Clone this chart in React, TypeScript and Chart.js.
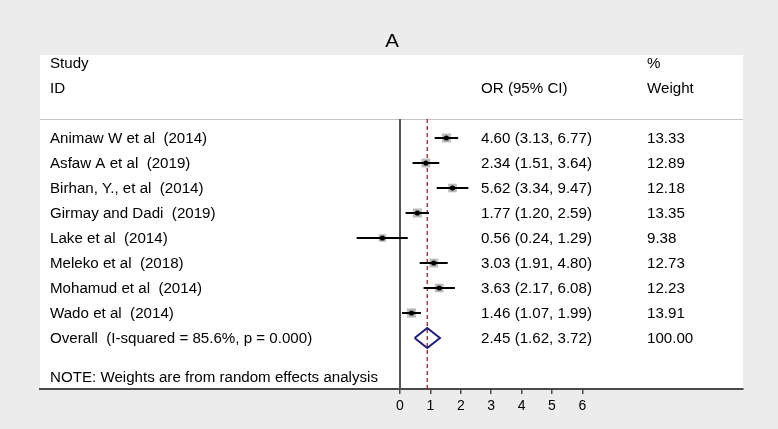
import React, { useEffect, useRef } from "react";
import { Chart, registerables } from "chart.js";

Chart.register(...registerables);

const studies = [
  "Animaw W et al  (2014)",
  "Asfaw A et al  (2019)",
  "Birhan, Y., et al  (2014)",
  "Girmay and Dadi  (2019)",
  "Lake et al  (2014)",
  "Meleko et al  (2018)",
  "Mohamud et al  (2014)",
  "Wado et al  (2014)",
];
const orValues = [4.6, 2.34, 5.62, 1.77, 0.56, 3.03, 3.63, 1.46];
const lowerCI = [3.13, 1.51, 3.34, 1.2, 0.24, 1.91, 2.17, 1.07];
const upperCI = [6.77, 3.64, 9.47, 2.59, 1.29, 4.8, 6.08, 1.99];
const weights = [13.33, 12.89, 12.18, 13.35, 9.38, 12.73, 12.23, 13.91];
const overallLabel = "Overall  (I-squared = 85.6%, p = 0.000)";
const overallOR = 2.45;
const overallLower = 1.62;
const overallUpper = 3.72;
const overallWeight = "100.00";
const noteText = "NOTE: Weights are from random effects analysis";
const xTickValues = [0, 1, 2, 3, 4, 5, 6];
const titleText = "A";

const FONT = "'Liberation Sans', Arial, Helvetica, sans-serif";

export default function App() {
  const ref = useRef<HTMLCanvasElement | null>(null);

  useEffect(() => {
    document.body.style.margin = "0";
    const canvas = ref.current;
    if (!canvas) return;

    const rows = studies.map((_, i) => i + 1);
    const overallRow = studies.length + 1;
    const noteRow = overallRow + 1.56;
    const headerLineRow = 0.24;
    const studyHeaderRow = -2;
    const idHeaderRow = -1;

    const fmt = (v: number) => v.toFixed(2);

    const ciDatasets = rows.map((r, i) => ({
      type: "line" as const,
      data: [
        { x: Math.log(lowerCI[i]), y: r },
        { x: Math.log(upperCI[i]), y: r },
      ],
      borderColor: "#000000",
      borderWidth: 2,
      pointRadius: 0,
      showLine: true,
      order: 2,
    }));

    const lnO = Math.log(overallOR);
    const diamondH = 0.4;

    const bgPlugin = {
      id: "bg",
      beforeDraw(chart: any) {
        const { ctx, chartArea } = chart;
        ctx.save();
        ctx.fillStyle = "#ececec";
        ctx.fillRect(0, 0, chart.width, chart.height);
        ctx.fillStyle = "#ffffff";
        ctx.fillRect(
          chartArea.left,
          chartArea.top,
          chartArea.right - chartArea.left,
          chartArea.bottom - chartArea.top
        );
        const ys = chart.scales.y;
        const yl = Math.round(ys.getPixelForValue(headerLineRow)) + 0.5;
        ctx.strokeStyle = "#c4c4c4";
        ctx.lineWidth = 1;
        ctx.beginPath();
        ctx.moveTo(chartArea.left, yl);
        ctx.lineTo(chartArea.right, yl);
        ctx.stroke();
        ctx.restore();
      },
    };

    const SX = 1.08;
    const textPlugin = {
      id: "texts",
      afterDraw(chart: any) {
        const { ctx, chartArea } = chart;
        const ys = chart.scales.y;
        const put = (t: string, x: number, y: number) => {
          ctx.save();
          ctx.translate(x, y + 1);
          ctx.scale(SX, 1);
          ctx.fillText(t, 0, 0);
          ctx.restore();
        };
        ctx.save();
        ctx.fillStyle = "#000000";
        ctx.textBaseline = "middle";
        ctx.font = `19px ${FONT}`;
        ctx.textAlign = "center";
        ctx.save();
        ctx.translate(392, 42);
        ctx.scale(SX, 1);
        ctx.fillText(titleText, 0, 0);
        ctx.restore();

        ctx.font = `14px ${FONT}`;
        ctx.textAlign = "left";
        const lx = chartArea.left + 10;
        const ox = 481;
        const wx = 647;
        put("Study", lx, ys.getPixelForValue(studyHeaderRow));
        put("ID", lx, ys.getPixelForValue(idHeaderRow));
        put("OR (95% CI)", ox, ys.getPixelForValue(idHeaderRow));
        put("%", wx, ys.getPixelForValue(studyHeaderRow));
        put("Weight", wx, ys.getPixelForValue(idHeaderRow));
        studies.forEach((s, i) => {
          const y = ys.getPixelForValue(rows[i]);
          put(s, lx, y);
          put(
            `${fmt(orValues[i])} (${fmt(lowerCI[i])}, ${fmt(upperCI[i])})`,
            ox,
            y
          );
          put(fmt(weights[i]), wx, y);
        });
        const yo = ys.getPixelForValue(overallRow);
        put(overallLabel, lx, yo);
        put(
          `${fmt(overallOR)} (${fmt(overallLower)}, ${fmt(overallUpper)})`,
          ox,
          yo
        );
        put(overallWeight, wx, yo);
        put(noteText, lx, ys.getPixelForValue(noteRow));
        ctx.restore();
      },
    };

    const chart = new Chart(canvas, {
      type: "scatter",
      data: {
        datasets: [
          {
            type: "line",
            data: [
              { x: 0, y: headerLineRow },
              { x: 0, y: 11.04 },
            ],
            borderColor: "#555555",
            borderWidth: 2,
            pointRadius: 0,
            showLine: true,
            order: 5,
          },
          {
            type: "line",
            data: [
              { x: lnO, y: headerLineRow },
              { x: lnO, y: 11.04 },
            ],
            borderColor: "#9c2227",
            borderWidth: 1.3,
            borderDash: [4, 3],
            pointRadius: 0,
            showLine: true,
            order: 4,
          },
          {
            type: "scatter",
            data: rows.map((r, i) => ({ x: Math.log(orValues[i]), y: r })),
            pointStyle: "rect",
            pointRadius: weights.map((w) => 1.75 * Math.sqrt(w)),
            backgroundColor: "#bcbcbc",
            borderWidth: 0,
            order: 3,
          },
          ...ciDatasets,
          {
            type: "scatter",
            data: rows.map((r, i) => ({ x: Math.log(orValues[i]), y: r })),
            pointStyle: "circle",
            pointRadius: 2.6,
            backgroundColor: "#000000",
            borderWidth: 0,
            order: 1,
          },
          {
            type: "line",
            data: [
              { x: Math.log(overallLower), y: overallRow },
              { x: lnO, y: overallRow - diamondH },
              { x: Math.log(overallUpper), y: overallRow },
              { x: lnO, y: overallRow + diamondH },
              { x: Math.log(overallLower), y: overallRow },
            ],
            borderColor: "#1c1c7c",
            borderWidth: 2,
            pointRadius: 0,
            showLine: true,
            tension: 0,
            order: 0,
          },
        ] as any,
      },
      options: {
        animation: false,
        responsive: true,
        maintainAspectRatio: false,
        layout: { padding: { left: 40, right: 35, top: 55, bottom: 0 } },
        plugins: {
          legend: { display: false },
          tooltip: { enabled: false },
          title: { display: false },
        },
        scales: {
          x: {
            type: "linear",
            min: -360 / 30.4,
            max: 343 / 30.4,
            afterBuildTicks: (scale: any) => {
              scale.ticks = xTickValues.map((v) => ({ value: v }));
            },
            afterFit: (scale: any) => {
              scale.height = 40;
            },
            border: { display: true, color: "#4a4a4a", width: 2 },
            grid: {
              display: true,
              drawOnChartArea: false,
              drawTicks: true,
              tickLength: 5,
              color: "#4a4a4a",
              lineWidth: 1.5,
            },
            ticks: {
              color: "#000000",
              font: { family: FONT, size: 14 },
              padding: 4,
              maxRotation: 0,
              autoSkip: false,
              callback: (v: any) => String(v),
            },
          },
          y: {
            type: "linear",
            display: false,
            reverse: true,
            min: -2.32,
            max: 11.04,
          },
        },
      },
      plugins: [bgPlugin, textPlugin],
    });

    return () => chart.destroy();
  }, []);

  return (
    <div style={{ position: "relative", width: 778, height: 429 }}>
      <canvas ref={ref} />
    </div>
  );
}
